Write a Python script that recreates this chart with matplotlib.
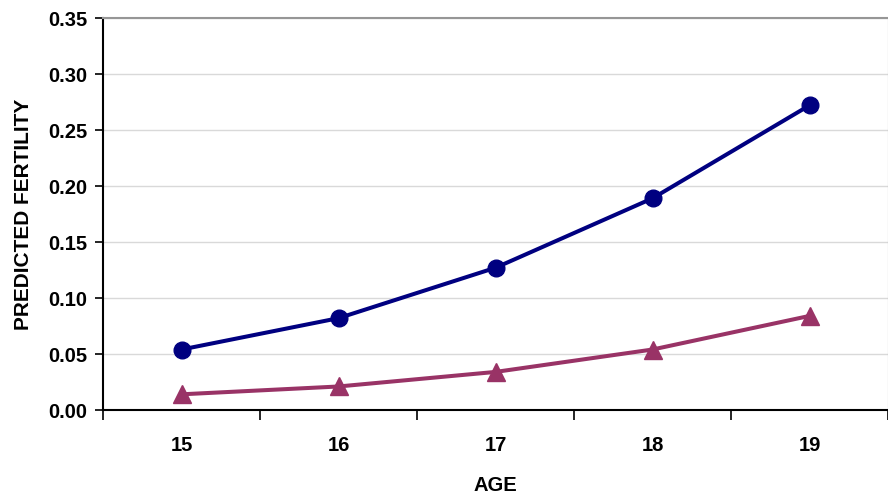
import numpy as np, matplotlib
matplotlib.use("Agg")
import matplotlib.pyplot as plt

plt.rcParams.update({"font.family": ["Liberation Sans", "DejaVu Sans"], "font.weight": "bold"})

ages = ["15", "16", "17", "18", "19"]
series_a = [0.054, 0.082, 0.127, 0.189, 0.272]
series_b = [0.014, 0.021, 0.034, 0.054, 0.084]

fig = plt.figure(figsize=(8.88, 4.97), dpi=100)
ax = fig.add_axes([103/888, 87/497, 785/888, 392/497])
x = np.arange(len(ages))
ax.plot(x, series_a, color="#000080", lw=2.9, marker="o", ms=12, zorder=4, clip_on=False)
ax.plot(x, series_b, color="#993366", lw=2.9, marker="^", ms=12.5, zorder=4, clip_on=False)

ax.set_xlim(-0.5, len(ages) - 0.5)
ax.set_ylim(0, 0.35)
yt = np.arange(0, 0.351, 0.05)
ax.set_yticks(yt)
ax.set_yticklabels([f"{v:.2f}" for v in yt], fontweight="bold")
ax.set_xticks(x)
ax.set_xticklabels(ages, fontweight="bold")
ax.set_xticks(np.arange(-0.5, len(ages)), minor=True)
ax.tick_params(axis="x", which="major", length=0, pad=19, labelsize=14.5)
ax.tick_params(axis="x", which="minor", length=7, width=1.2, direction="out")
ax.tick_params(axis="y", length=6, width=1.2, direction="out", labelsize=14.5, pad=5)
ax.grid(axis="y", color="#d9d9d9", lw=1)
ax.set_axisbelow(True)
for s in ["left", "bottom"]:
    ax.spines[s].set_linewidth(1.5)
ax.spines["top"].set_color("#969696")
ax.spines["top"].set_linewidth(1.5)
ax.spines["right"].set_color("#969696")
ax.set_xlabel("AGE", fontsize=14.5, fontweight="bold")
ax.xaxis.set_label_coords(0.5, -0.168)
ax.set_ylabel("PREDICTED FERTILITY", fontsize=15, fontweight="bold", labelpad=11)

fig.savefig("out.png", dpi=100)
